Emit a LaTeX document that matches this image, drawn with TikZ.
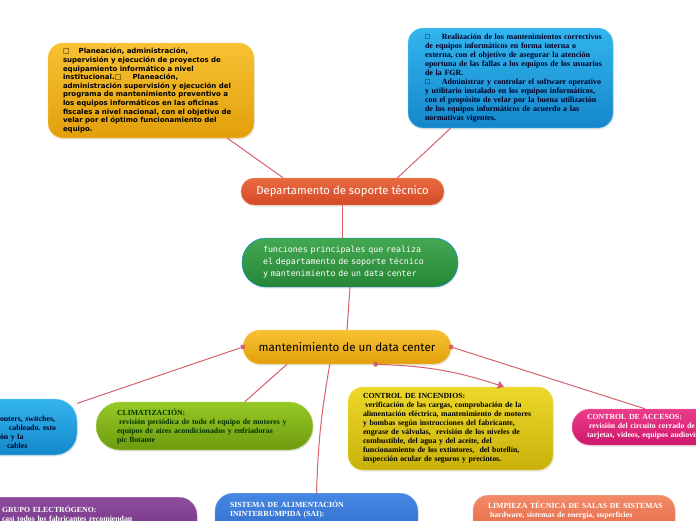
\documentclass[tikz,border=0pt]{standalone}
\usepackage{fontspec}
\setmainfont{Liberation Serif}
\newfontfamily\verdfont{DejaVu Sans}
\newfontfamily\typefont{DejaVu Sans Mono}
\newfontfamily\handfont{Fira Sans}
\usetikzlibrary{positioning,calc,shadows,arrows.meta}
\frenchspacing

\definecolor{linkred}{HTML}{D6606B}
\definecolor{yeltop}{HTML}{F7C233}
\definecolor{yelbot}{HTML}{E29F0C}
\definecolor{skytop}{HTML}{33B5EE}
\definecolor{skybot}{HTML}{1487CA}
\definecolor{redtop}{HTML}{EA6A42}
\definecolor{redbot}{HTML}{D44A24}
\definecolor{grntop}{HTML}{44A852}
\definecolor{grnbot}{HTML}{268636}
\definecolor{limtop}{HTML}{96C926}
\definecolor{limbot}{HTML}{6E9A0E}
\definecolor{olitop}{HTML}{EDD82A}
\definecolor{olibot}{HTML}{C9B10A}
\definecolor{pnktop}{HTML}{EC3C8C}
\definecolor{pnkbot}{HTML}{CD186A}
\definecolor{prptop}{HTML}{8E4C9E}
\definecolor{prpbot}{HTML}{6A2B7B}
\definecolor{blutop}{HTML}{4587E2}
\definecolor{blubot}{HTML}{2E68C8}
\definecolor{saltop}{HTML}{F28A68}
\definecolor{salbot}{HTML}{E2623E}

\begin{document}
\begin{tikzpicture}[x=1pt, y=-1pt,
    box/.style={rounded corners=#1, align=left, inner ysep=0pt,
        drop shadow={opacity=0.18, shadow xshift=0.8pt, shadow yshift=-1.6pt}},
    box/.default=15pt,
    small/.style={font=\bfseries\fontsize{7.8}{9}\selectfont},
    link/.style={draw=linkred, line width=1pt},
    knob/.style={circle, fill=linkred, inner sep=0pt, minimum size=5pt}
]
    \useasboundingbox (0,0) rectangle (696,520);
    \clip (0,0) rectangle (696,520);

    % Top boxes
    \node[box=15pt, top color=yeltop, bottom color=yelbot, draw=yeltop!70!white,
          minimum width=206pt, minimum height=95pt, text width=176pt, inner xsep=15pt,
          font=\verdfont\bfseries\fontsize{7}{8.6}\selectfont] (plan) at (151,90.5) {%
        \mbox{□\hspace{1.3em}Planeación, administración,}\\
        \mbox{supervisión y ejecución de proyectos de}\\
        equipamiento informático a nivel\\
        \mbox{institucional.□\hspace{1.6em}Planeación,}\\
        \mbox{administración supervisión y ejecución del}\\
        \mbox{programa de mantenimiento preventivo a}\\
        \mbox{los equipos informáticos en las oficinas}\\
        \mbox{fiscales a nivel nacional, con el objetivo de}\\
        \mbox{velar por el óptimo funcionamiento del}\\
        equipo.};

    \node[box=15pt, top color=skytop, bottom color=skybot, draw=skytop!60!white,
          text=black!85!blue, minimum width=205pt, minimum height=100pt,
          text width=171pt, font=\bfseries\fontsize{8}{9}\selectfont] (tareas) at (510.5,78) {%
        \mbox{□\hspace{1.5em}Realización de los mantenimientos correctivos}\\
        \mbox{de equipos informáticos en forma interna o}\\
        \mbox{externa, con el objetivo de asegurar la atención}\\
        \mbox{oportuna de las fallas a los equipos de los usuarios}\\
        de la FGR.\\
        \mbox{□\hspace{1.5em}Administrar y controlar el software operativo}\\
        \mbox{y utilitario instalado en los equipos informáticos,}\\
        \mbox{con el propósito de velar por la buena utilización}\\
        \mbox{de los equipos informáticos de acuerdo a las}\\
        normativas vigentes.};

    % Central chain
    \node[box=13pt, top color=redtop, bottom color=redbot, draw=redtop!70!white,
          text=white, minimum width=203pt, minimum height=27pt,
          font=\handfont\fontsize{11.3}{12}\selectfont] (dept) at (342.5,191.5)
        {Departamento de soporte técnico};

    \node[box=24pt, top color=grntop, bottom color=grnbot, draw=blue!45!cyan,
          text=white, minimum width=216pt, minimum height=49pt, text width=174pt,
          font=\typefont\fontsize{8.3}{12}\selectfont] (funciones) at (350,262.5) {%
        funciones principales que realiza\\
        el departamento de soporte técnico\\
        y mantenimiento de un data center};

    \node[box=17pt, top color=yeltop, bottom color=yelbot, draw=yeltop!70!white,
          minimum width=208pt, minimum height=34pt,
          font=\handfont\fontsize{11.6}{12}\selectfont] (mant) at (347,347)
        {mantenimiento de un data center};

    % Tasks of the data center
    \node[box=22pt, small, top color=skytop, bottom color=skybot, draw=skytop!60!white,
          text=black!85!blue, minimum width=101pt, minimum height=56pt,
          text width=53pt] (redes) at (26.5,427) {%
        \mbox{\strut}\\
        \mbox{outers, switches,}\\
        \mbox{\hspace*{9pt}cableado. esto}\\
        \mbox{ón y la}\\
        \mbox{\hspace*{7pt}cables}};

    \node[box=24pt, small, top color=limtop, bottom color=limbot, draw=limtop!70!white,
          text=black!80!green, minimum width=217pt, minimum height=48pt,
          text width=175pt] (clima) at (204.5,426) {%
        CLIMATIZACIÓN:\\
        \mbox{\hspace*{2pt}revisión periódica de todo el equipo de motores y}\\
        \mbox{equipos de aires acondicionados y enfriadoras}\\
        pic flotante};

    \node[box=15pt, small, top color=olitop, bottom color=olibot, draw=olitop!70!white,
          text=black, minimum width=205pt, minimum height=83pt,
          text width=175pt] (incendios) at (450.5,428.5) {%
        CONTROL DE INCENDIOS:\\
        \mbox{\hspace*{2pt}verificación de las cargas, comprobación de la}\\
        \mbox{alimentación eléctrica, mantenimiento de motores}\\
        \mbox{y bombas según instrucciones del fabricante,}\\
        \mbox{engrase de válvulas,\ \ revisión de los niveles de}\\
        combustible, del agua y del aceite, del\\
        \mbox{funcionamiento de los extintores,\ \ del botellín,}\\
        \mbox{inspección ocular de seguros y precintos.}};

    \node[box=18pt, small, top color=pnktop, bottom color=pnkbot, draw=pnktop!70!white,
          text=white, minimum width=198pt, minimum height=36pt,
          text width=168pt] (accesos) at (671,427) {%
        CONTROL DE ACCESOS:\\
        \hspace*{2pt}revisión del circuito cerrado de\\
        tarjetas, videos, equipos audiovis};

    % Bottom row
    \node[box=18pt, small, top color=prptop, bottom color=prpbot, draw=prptop!70!white,
          text=white, anchor=north, minimum width=257pt, text width=133pt,
          inner ysep=9pt] (grupo) at (68.5,497) {%
        GRUPO ELECTRÓGENO:\\
        \mbox{casi todos los fabricantes recomiendan}\\ \mbox{}\\ \mbox{}};

    \node[box=18pt, small, top color=blutop, bottom color=blubot, draw=blutop!70!white,
          text=white, anchor=north, minimum width=203pt, text width=173pt,
          inner ysep=8pt] (sai) at (316.5,493) {%
        SISTEMA DE ALIMENTACIÓN\\
        ININTERRUMPIDA (SAI):\\ \mbox{}\\ \mbox{}};

    \node[box=15pt, small, top color=saltop, bottom color=salbot, draw=saltop!70!white,
          text=white, anchor=north, minimum width=202pt, text width=172pt,
          inner ysep=7pt] (limpieza) at (574,495) {%
        \mbox{LIMPIEZA TÉCNICA DE SALAS DE SISTEMAS}\\
        \mbox{\hspace*{2pt}hardware, sistemas de energía, superficies}\\ \mbox{}\\ \mbox{}};

    % Connectors
    \draw[link] (plan.-32) -- (dept.167);
    \draw[link] (tareas.-140) -- (dept.14);
    \draw[link] (dept.south) -- (funciones.north -| dept.south);
    \draw[link] (funciones.south) -- (mant.north);

    \node[knob] (kleft) at (mant.west) {};
    \node[knob] (kright) at (mant.east) {};
    \node[knob] (kdown) at (mant.-31) {};

    \draw[link] (kleft) -- (redes.25);
    \draw[link] (mant.-164) -- (clima.31);
    \draw[link] (mant.-135) to[bend right=4] (sai.north);
    \draw[link, -{Triangle[length=6pt,width=8pt]}] (kdown) to[bend left=8] (incendios.38);
    \draw[link] (kright) -- (accesos.145);

\end{tikzpicture}
\end{document}
